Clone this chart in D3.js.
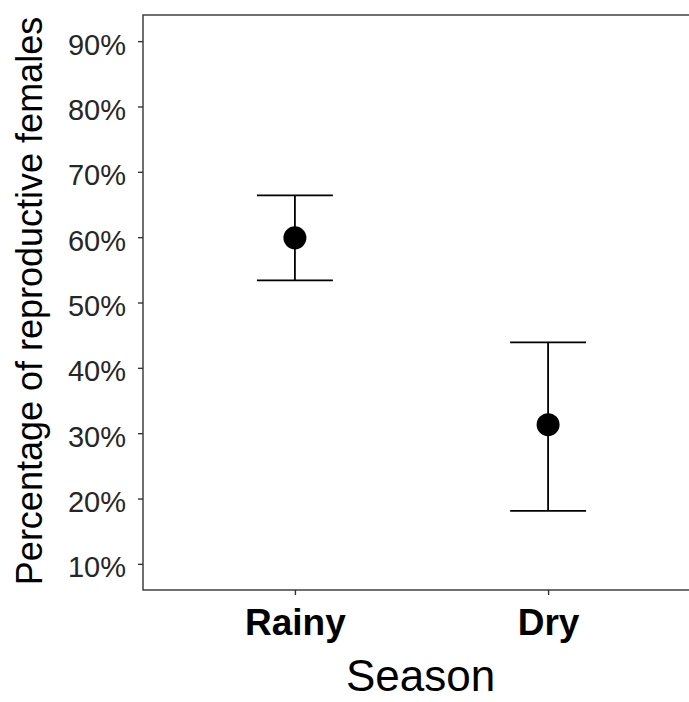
<!DOCTYPE html>
<html>
<head>
<meta charset="utf-8">
<script src="https://cdn.jsdelivr.net/npm/d3@7"></script>
<style>
  body { margin: 0; background: #fff; }
  svg { display: block; font-family: "Liberation Sans", Arial, sans-serif; }
</style>
</head>
<body>
<div id="chart"></div>
<script>
// data
const seasons = ["Rainy", "Dry"];
const meanValues = [59.9, 31.3];
const lowerValues = [53.4, 18.1];
const upperValues = [66.4, 43.9];
const yTicks = [10, 20, 30, 40, 50, 60, 70, 80, 90];

const width = 689, height = 702;
// panel runs past the right edge of the window, as in the reference
const panel = {left: 143, top: 15, right: 700, bottom: 590};

const svg = d3.select("#chart").append("svg")
    .attr("width", width)
    .attr("height", height);

const x = d3.scalePoint()
    .domain(seasons)
    .range([panel.left, panel.right])
    .padding(0.6);

const y = d3.scaleLinear()
    .domain([6, 94])
    .range([panel.bottom, panel.top]);

// panel border
svg.append("rect")
    .attr("x", panel.left)
    .attr("y", panel.top)
    .attr("width", panel.right - panel.left)
    .attr("height", panel.bottom - panel.top)
    .attr("fill", "none")
    .attr("stroke", "#333")
    .attr("stroke-width", 1.4);

// y axis
const yAxis = svg.append("g")
    .attr("transform", `translate(${panel.left},0)`)
    .call(d3.axisLeft(y).tickValues(yTicks).tickSize(5).tickPadding(12)
        .tickFormat(d => d + "%"));
yAxis.select(".domain").remove();
yAxis.selectAll(".tick line").attr("stroke", "#333").attr("stroke-width", 1.4);
yAxis.selectAll(".tick text")
    .attr("fill", "#262626")
    .attr("font-size", 29)
    .attr("font-family", "Liberation Sans, Arial, sans-serif")
    .attr("dy", "0.45em");

// x axis
const xAxis = svg.append("g")
    .attr("transform", `translate(0,${panel.bottom})`)
    .call(d3.axisBottom(x).tickSize(5).tickPadding(14));
xAxis.select(".domain").remove();
xAxis.selectAll(".tick line").attr("stroke", "#333").attr("stroke-width", 1.4);
xAxis.selectAll(".tick text")
    .attr("fill", "#000")
    .attr("font-size", 37)
    .attr("font-weight", "bold")
    .attr("font-family", "Liberation Sans, Arial, sans-serif");

// axis titles
svg.append("text")
    .attr("x", (panel.left + 700) / 2 - 1)
    .attr("y", 691)
    .attr("text-anchor", "middle")
    .attr("font-size", 44)
    .attr("fill", "#000")
    .text("Season");

svg.append("text")
    .attr("transform", "translate(42,301) rotate(-90)")
    .attr("text-anchor", "middle")
    .attr("font-size", 36)
    .attr("fill", "#000")
    .text("Percentage of reproductive females");

// error bars
const rows = seasons.map((s, i) => ({
    season: s, mean: meanValues[i], lo: lowerValues[i], hi: upperValues[i]
}));
const half = x.step() * 0.3 / 2;

const bars = svg.append("g")
    .attr("stroke", "#000")
    .attr("stroke-width", 1.8)
    .selectAll("g")
    .data(rows)
    .join("g");

bars.append("line")
    .attr("x1", d => x(d.season)).attr("x2", d => x(d.season))
    .attr("y1", d => y(d.lo)).attr("y2", d => y(d.hi));
bars.append("line")
    .attr("x1", d => x(d.season) - half).attr("x2", d => x(d.season) + half)
    .attr("y1", d => y(d.hi)).attr("y2", d => y(d.hi));
bars.append("line")
    .attr("x1", d => x(d.season) - half).attr("x2", d => x(d.season) + half)
    .attr("y1", d => y(d.lo)).attr("y2", d => y(d.lo));

// mean points
svg.append("g")
    .selectAll("circle")
    .data(rows)
    .join("circle")
    .attr("cx", d => x(d.season))
    .attr("cy", d => y(d.mean))
    .attr("r", 11.5)
    .attr("fill", "#000");
</script>
</body>
</html>
